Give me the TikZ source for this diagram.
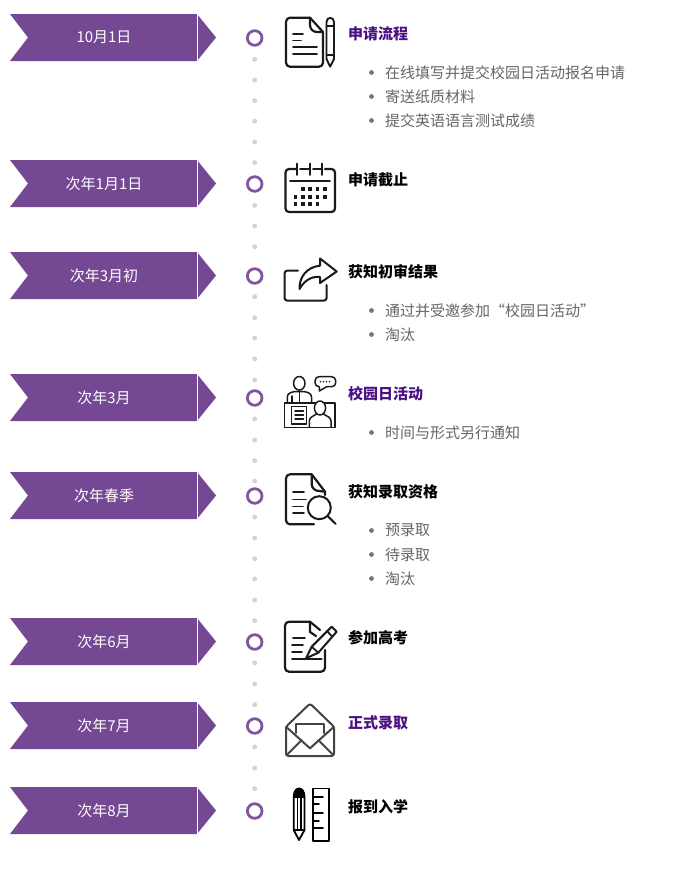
\documentclass[tikz,border=0pt]{standalone}
\usepackage{fontspec}
\setmainfont{Noto Sans CJK SC}
\definecolor{rib}{HTML}{754893}
\definecolor{ringc}{HTML}{80569F}
\definecolor{dotc}{HTML}{D4D4D4}
\definecolor{titlep}{HTML}{4B1082}
\definecolor{bodyc}{HTML}{666666}
\definecolor{iconc}{HTML}{1A1A1A}
\definecolor{envc}{HTML}{444444}
\tikzset{
 x=1pt,y=-1pt,
 ribtext/.style={text=white,font=\fontsize{15}{15}\selectfont,anchor=center,inner sep=0},
 ttl/.style={font=\fontsize{15}{15}\selectfont\bfseries,anchor=west,inner sep=0},
 ttlp/.style={ttl,text=titlep},
 ttlk/.style={ttl,text=black},
 item/.style={font=\fontsize{15}{15}\selectfont,text=bodyc,anchor=west,inner sep=0},
 ic/.style={draw=iconc,line width=2.2pt,line join=round,line cap=round},
 ict/.style={draw=iconc,line width=1.8pt,line join=round,line cap=round},
 ringst/.style={circle,draw=ringc,line width=2.8pt,fill=white,minimum size=14.6pt,inner sep=0},
}
\newcommand{\ribbon}[3]{%
 \fill[rib] (10,#2-23.5) -- (197,#2-23.5) -- (216,#2) -- (197,#2+23.5) -- (10,#2+23.5) -- (28,#2) -- cycle;
 \draw[white,line width=.8pt] (197.5,#2-23.5) -- (197.5,#2+23.5);
 \node[ribtext] (#1) at (104,#2) {#3};
 \node[ringst] (r#1) at (254.7,#2+.5) {};
}
\newcommand{\bul}[3]{%
 \fill[bodyc!90] (371.5,#2) circle (2.4);
 \node[item] (#1) at (385,#2) {#3};
}
\begin{document}
\begin{tikzpicture}
\useasboundingbox (0,0) rectangle (681,873);
\fill[white] (0,0) rectangle (681,873);
\foreach \y in {59.3,80,100.7,121,142,162.7,205.3,226,246.7,296.7,317.7,338,359,380,419,440,460.7,481,517,538,558.7,579,600,620.7,663,684,704.7,747,768,788.7}
 \fill[dotc] (254.7,\y) circle (2.5);
\ribbon{a}{37.5}{10月1日}
\ribbon{b}{183.5}{次年1月1日}
\ribbon{c}{275.5}{次年3月初}
\ribbon{d}{397.5}{次年3月}
\ribbon{e}{495.5}{次年春季}
\ribbon{f}{641.5}{次年6月}
\ribbon{g}{725.5}{次年7月}
\ribbon{h}{810.5}{次年8月}
% titles
\node[ttlp] (t1) at (348,33.5) {申请流程};
\node[ttlk] (t2) at (348,179.5) {申请截止};
\node[ttlk] (t3) at (348,271.5) {获知初审结果};
\node[ttlp] (t4) at (348,393.5) {校园日活动};
\node[ttlk] (t5) at (348,491.5) {获知录取资格};
\node[ttlk] (t6) at (348,637.5) {参加高考};
\node[ttlp] (t7) at (348,723) {正式录取};
\node[ttlk] (t8) at (348,806.5) {报到入学};
% lists
\bul{l1}{72.5}{在线填写并提交校园日活动报名申请}
\bul{l2}{96.5}{寄送纸质材料}
\bul{l3}{120.5}{提交英语语言测试成绩}
\bul{l4}{310.5}{通过并受邀参加“校园日活动”}
\bul{l5}{334.5}{淘汰}
\bul{l6}{432.5}{时间与形式另行通知}
\bul{l7}{530.5}{预录取}
\bul{l8}{554.5}{待录取}
\bul{l9}{578.5}{淘汰}
% icon 1: document and pencil
\draw[ic,rounded corners=4pt] (310,17.7) -- (286,17.7) -- (286,66.7) -- (323,66.7) -- (323,32);
\draw[ic] (310,17.7) -- (323,32);
\draw[ic] (310,17.7) -- (310,25) .. controls (310,29) and (313,32) .. (317,32) -- (323,32);
\draw[ict] (293,34) -- (303,34) (293,40.5) -- (301,40.5) (293,47) -- (317,47) (293,54) -- (317,54);
\draw[ic,line width=1.9pt] (326.5,59) -- (326.5,22) .. controls (326.5,16.5) and (334,16.5) .. (334,22) -- (334,59);
\draw[ic,line width=1.9pt] (326.5,26) -- (334,26) (326.5,55) -- (334,55);
\draw[ic,line width=1.9pt] (326.5,59) -- (330.2,66.7) -- (334,59);
% icon 2: calendar
\draw[ic,rounded corners=3.5pt] (297,169) -- (285.5,169) -- (285.5,212) -- (335,212) -- (335,169) -- (325,169);
\draw[ic,line width=1.9pt] (310,169) -- (300,169) (322,169) -- (313,169);
\draw[ic,line width=1.9pt] (297,163.5) -- (297,175) (310,163.5) -- (310,175) (322,163.5) -- (322,175);
\draw[ic,line width=1.9pt] (290,181) -- (330,181);
\foreach \xx/\r in {302.7/189,310/189,317.3/189,325/189,295.3/197,302.7/197,310/197,317.3/197,325/197,295.3/204,302.7/204,310/204,317.3/204}
 \fill[iconc] (\xx-1.8,\r-1.8) rectangle (\xx+1.8,\r+1.8);
% icon 3: share
\draw[ic,line width=2pt,rounded corners=3pt] (298,270.5) -- (284.5,270.5) -- (284.5,300.7) -- (326.7,300.7) -- (326.7,285);
\draw[ic,line width=2pt] (299.5,289) .. controls (299,277) and (307,267) .. (320,265.7) -- (320,258.5) -- (336.7,271.5) -- (320,283) -- (320,277) .. controls (311,276) and (304,281) .. (299.5,289) -- cycle;
% icon 4: campus meeting
\begin{scope}[every path/.style={ict,line width=1.5pt}]
 \draw (299.3,383.3) ellipse[x radius=5.7,y radius=6.8];
 \draw (287.3,403) -- (287.3,397) .. controls (287.3,393) and (292,392) .. (295,391.5) -- (303.5,391.5) .. controls (307,392) and (311.5,393) .. (311.5,397) -- (311.5,403);
 \draw (299.3,391.5) -- (299.3,403) (292,396) -- (292,403);
 \draw (284.5,403) rectangle (335,427.3);
 \draw (291.7,406.7) rectangle (306.7,424);
 \draw (295,411) -- (303.5,411) (295,415) -- (303.5,415) (295,419) -- (303.5,419);
 \draw[fill=white] (320,408) ellipse[x radius=5.6,y radius=7];
 \draw (309.3,427) -- (309.3,421) .. controls (309.3,417) and (314,416) .. (316.5,414) (331,427) -- (331,421) .. controls (331,417) and (326,416) .. (323.5,414);
 \draw[rounded corners=4pt] (315,376.7) rectangle (335.7,386.7);
 \fill[white] (320,386) rectangle (326,388);
 \draw (319.3,386.7) -- (319.3,391) -- (326.7,386.7);
\end{scope}
\foreach \k in {0,1,2,3} \fill[iconc] (320.5+\k*3,381.7) circle (.9);
% icon 5: doc + magnifier
\draw[ic,rounded corners=4pt] (311.7,474.3) -- (286,474.3) -- (286,524.3) -- (314,524.3);
\draw[ic] (311.7,474.3) -- (325,491.7) -- (325,495);
\draw[ic] (311.7,474.3) -- (311.7,484) .. controls (311.7,488) and (315,491) .. (319,491) -- (325,491.7);
\draw[ict] (293,491.7) -- (304,491.7) (293,499.5) -- (306,499.5) (293,506.5) -- (303,506.5) (293,512.7) -- (304,512.7);
\draw[ic,line width=2pt] (319.3,507.7) circle (11.5);
\draw[ic,line width=2pt] (328.3,516.7) -- (335.7,524);
% icon 6: doc + pen
\draw[ic,rounded corners=4pt] (310,621.7) -- (285,621.7) -- (285,671.7) -- (325,671.7) -- (325,650);
\draw[ic] (310,621.7) -- (320,630);
\draw[ic] (310,621.7) -- (310,632) -- (316,636);
\draw[ict] (293,638) -- (305,638) (292,645) -- (303,645) (292,651.7) -- (302,651.7);
\draw[ic,line width=2pt] (292,659) -- (321.7,659);
\draw[ic,line width=2pt,fill=white] (306,658.3) -- (311.7,646.7) -- (331.7,626.7) -- (336.7,631.7) -- (318.3,652.7) -- cycle;
\draw[ic,line width=1.8pt] (327,631) -- (332,636.5) (311.7,646.7) -- (318.3,652.7);
% icon 7: envelope
\begin{scope}[every path/.style={draw=envc,line width=2pt,line join=round,line cap=round}]
 \draw[rounded corners=2.5pt] (286,726.7) -- (310,703.5) -- (334,726.7) -- (334,756) -- (286,756) -- cycle;
 \draw (286,726.7) -- (310,748.3) -- (334,726.7);
 \draw (286.7,755) -- (301.7,740) (333.3,755) -- (318.3,740);
 \draw (296,733) -- (296,724) -- (324,724) -- (324,733);
\end{scope}
% icon 8: pencil + ruler
\begin{scope}[every path/.style={ict,draw=black,line width=1.8pt}]
 \draw[fill=black] (293.7,797) .. controls (293.7,785.5) and (304.5,785.5) .. (304.5,797) -- cycle;
 \draw (293.7,797) -- (293.7,830) -- (299,840) -- (304.5,830) -- (304.5,797);
 \draw[line width=1.2pt] (297.3,797) -- (297.3,830) (300.9,797) -- (300.9,830);
 \draw (293.7,830) -- (304.5,830);
 \draw (313,788.5) rectangle (329,841);
 \foreach \yy/\ll in {796.7/10,804.3/6,812.7/10,820.7/6,828.3/10} \draw (313,\yy) -- (313+\ll,\yy);
\end{scope}
\end{tikzpicture}
\end{document}
